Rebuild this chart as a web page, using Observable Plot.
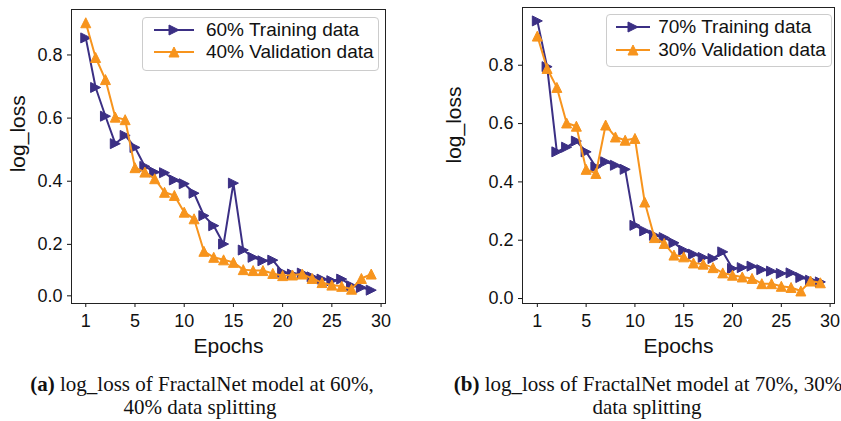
<!DOCTYPE html>
<html><head><meta charset="utf-8">
<script src="https://cdn.jsdelivr.net/npm/d3@7"></script>
<script src="https://cdn.jsdelivr.net/npm/@observablehq/plot@0.6"></script>
<style>
body{margin:0;background:#fff;}
#wrap{position:relative;width:841px;height:421px;overflow:hidden;font-family:"Liberation Sans",Arial,sans-serif;color:#111;}
.panel{position:absolute;top:0;}
.legend{position:absolute;background:rgba(255,255,255,0.8);border:1px solid #cccccc;border-radius:4px;box-sizing:border-box;}
.legend .row{position:absolute;left:0;right:0;height:22px;line-height:22px;font-size:19px;white-space:nowrap;}
.legend svg{position:absolute;top:4px;overflow:visible;}
.legend span{position:absolute;top:0;}
.cap{position:absolute;font-family:"Liberation Serif","Times New Roman",serif;font-size:21px;line-height:22px;text-align:center;white-space:nowrap;color:#111;}
</style>
</head><body><div id="wrap"></div>
<script>
// ---------- data ----------
const epochIndex = [0,1,2,3,4,5,6,7,8,9,10,11,12,13,14,15,16,17,18,19,20,21,22,23,24,25,26,27,28,29];
const xTicks = [0,5,10,15,20,25,30];
const xTickLabels = ["1","5","10","15","20","25","30"];
const yTickLabels = ["0.0","0.2","0.4","0.6","0.8"];
const yTicksA = [0.037,0.2,0.4,0.6,0.8];
const yTicksB = [0,0.2,0.4,0.6,0.8];

const seriesNamesA = ["60% Training data","40% Validation data"];
const seriesNamesB = ["70% Training data","30% Validation data"];

const trainA = [0.854,0.697,0.606,0.519,0.545,0.507,0.447,0.429,0.427,0.404,0.392,0.362,0.291,0.259,0.201,0.394,0.182,0.159,0.148,0.150,0.111,0.106,0.109,0.097,0.090,0.085,0.090,0.069,0.063,0.055];
const valA   = [0.902,0.792,0.722,0.603,0.595,0.443,0.429,0.408,0.365,0.355,0.302,0.281,0.178,0.159,0.151,0.143,0.120,0.117,0.117,0.108,0.101,0.103,0.106,0.092,0.079,0.071,0.067,0.058,0.092,0.106];

const trainB = [0.952,0.795,0.503,0.519,0.540,0.503,0.451,0.469,0.457,0.443,0.251,0.232,0.217,0.209,0.191,0.166,0.152,0.141,0.137,0.160,0.103,0.106,0.111,0.099,0.094,0.086,0.088,0.072,0.063,0.057];
const valB   = [0.900,0.789,0.724,0.602,0.591,0.443,0.429,0.595,0.554,0.543,0.549,0.331,0.209,0.189,0.149,0.143,0.122,0.118,0.106,0.088,0.080,0.074,0.069,0.051,0.051,0.042,0.038,0.026,0.060,0.054];

const captionA = ["(a)", " log_loss of FractalNet model at 60%,", "40% data splitting"];
const captionB = ["(b)", " log_loss of FractalNet model at 70%, 30%", "data splitting"];
const xLabel = "Epochs";
const yLabel = "log_loss";

// ---------- style ----------
const purple = "#3b2f84";
const orange = "#f7941d";

const triUp = {draw(ctx, size){ const s = Math.sqrt(size/Math.PI); ctx.moveTo(0,-s); ctx.lineTo(s,s); ctx.lineTo(-s,s); ctx.closePath(); }};
const triRight = {draw(ctx, size){ const s = Math.sqrt(size/Math.PI); ctx.moveTo(s,0); ctx.lineTo(-s,s); ctx.lineTo(-s,-s); ctx.closePath(); }};

function panel(o){
  const rowsT = epochIndex.map((e,i)=>({e, v:o.train[i]}));
  const rowsV = epochIndex.map((e,i)=>({e, v:o.val[i]}));
  return Plot.plot({
    width:o.width, height:o.height,
    marginLeft:o.ml, marginRight:o.mr, marginTop:o.mt, marginBottom:o.mb,
    x:{domain:o.xDomain},
    y:{domain:o.yDomain},
    style:{fontFamily:'"Liberation Sans",Arial,sans-serif', fontSize:"18px", background:"transparent", color:"#111", overflow:"visible"},
    marks:[
      Plot.axisX({ticks:xTicks, tickFormat:d=>xTickLabels[xTicks.indexOf(d)], tickSize:4, tickPadding:7, fontSize:18, label:null}),
      Plot.axisY({ticks:o.yTicks, tickFormat:d=>yTickLabels[o.yTicks.indexOf(d)], tickSize:4, tickPadding:5, fontSize:18, label:null}),
      Plot.line(rowsT,{x:"e", y:"v", stroke:purple, strokeWidth:2}),
      Plot.dot(rowsT,{x:"e", y:"v", symbol:triRight, r:5, fill:purple, stroke:purple, strokeWidth:1}),
      Plot.line(rowsV,{x:"e", y:"v", stroke:orange, strokeWidth:2}),
      Plot.dot(rowsV,{x:"e", y:"v", symbol:triUp, r:5, fill:orange, stroke:orange, strokeWidth:1}),
      Plot.frame({stroke:"#222", strokeWidth:1}),
      Plot.text([xLabel],{frameAnchor:"bottom", text:d=>d, dy:49, fontSize:21}),
      Plot.text([yLabel],{frameAnchor:"left", text:d=>d, rotate:-90, dx:o.ylDx, dy:o.ylDy, fontSize:21})
    ]
  });
}

function legend(names, L){
  const div = document.createElement("div");
  div.className = "legend";
  Object.assign(div.style,{left:L.left+"px", top:L.top+"px", width:L.w+"px", height:L.h+"px"});
  const defs = [[names[0], purple, "right"],[names[1], orange, "up"]];
  defs.forEach(([name,col,kind],k)=>{
    const row = document.createElement("div");
    row.className = "row";
    row.style.top = (L.rows[k]-11)+"px";
    const len = L.lineLen, s = 5, m = len/2;
    const pts = kind==="up" ? `${m},${7-s} ${m+s},${7+s} ${m-s},${7+s}` : `${m+s},7 ${m-s},${7+s} ${m-s},${7-s}`;
    row.innerHTML = `<svg width="${len}" height="14" style="left:${L.lineX}px"><line x1="0" x2="${len}" y1="7" y2="7" stroke="${col}" stroke-width="2"/><polygon points="${pts}" fill="${col}" stroke="${col}" stroke-width="1"/></svg><span style="left:${L.textX}px">${name}</span>`;
    div.appendChild(row);
  });
  return div;
}

function caption(parts, c1, c2, top){
  const a = document.createElement("div");
  a.className = "cap";
  a.style.left = (c1-300)+"px"; a.style.width = "600px"; a.style.top = top+"px";
  a.innerHTML = `<b>${parts[0]}</b>${parts[1]}`;
  const b = document.createElement("div");
  b.className = "cap";
  b.style.left = (c2-300)+"px"; b.style.width = "600px"; b.style.top = (top+23)+"px";
  b.textContent = parts[2];
  return [a,b];
}

const wrap = document.getElementById("wrap");

const pA = panel({train:trainA, val:valA, width:420, height:360, ml:71, mr:35, mt:9, mb:57,
  xDomain:[-1.45,30.45], yDomain:[0.0127,0.944], yTicks:yTicksA, ylDx:-53.5, ylDy:15.8});
const dA = document.createElement("div"); dA.className="panel"; dA.style.left="0px"; dA.appendChild(pA); wrap.appendChild(dA);

const pB = panel({train:trainB, val:valB, width:418, height:360, ml:102, mr:4, mt:7, mb:57,
  xDomain:[-1.52,30.45], yDomain:[-0.017,0.998], yTicks:yTicksB, ylDx:-68, ylDy:8});
const dB = document.createElement("div"); dB.className="panel"; dB.style.left="420px"; dB.appendChild(pB); wrap.appendChild(dB);

wrap.appendChild(legend(seriesNamesA,{left:141.7, top:17.3, w:237.6, h:53.4, rows:[12,33.4], lineX:11.3, lineLen:40, textX:63.3}));
wrap.appendChild(legend(seriesNamesB,{left:605.7, top:14, w:226, h:52.7, rows:[12,35.3], lineX:9.3, lineLen:34, textX:51.5}));

caption(captionA, 202, 200, 373).forEach(e=>wrap.appendChild(e));
caption(captionB, 648, 647, 373).forEach(e=>wrap.appendChild(e));
</script>
</body></html>
